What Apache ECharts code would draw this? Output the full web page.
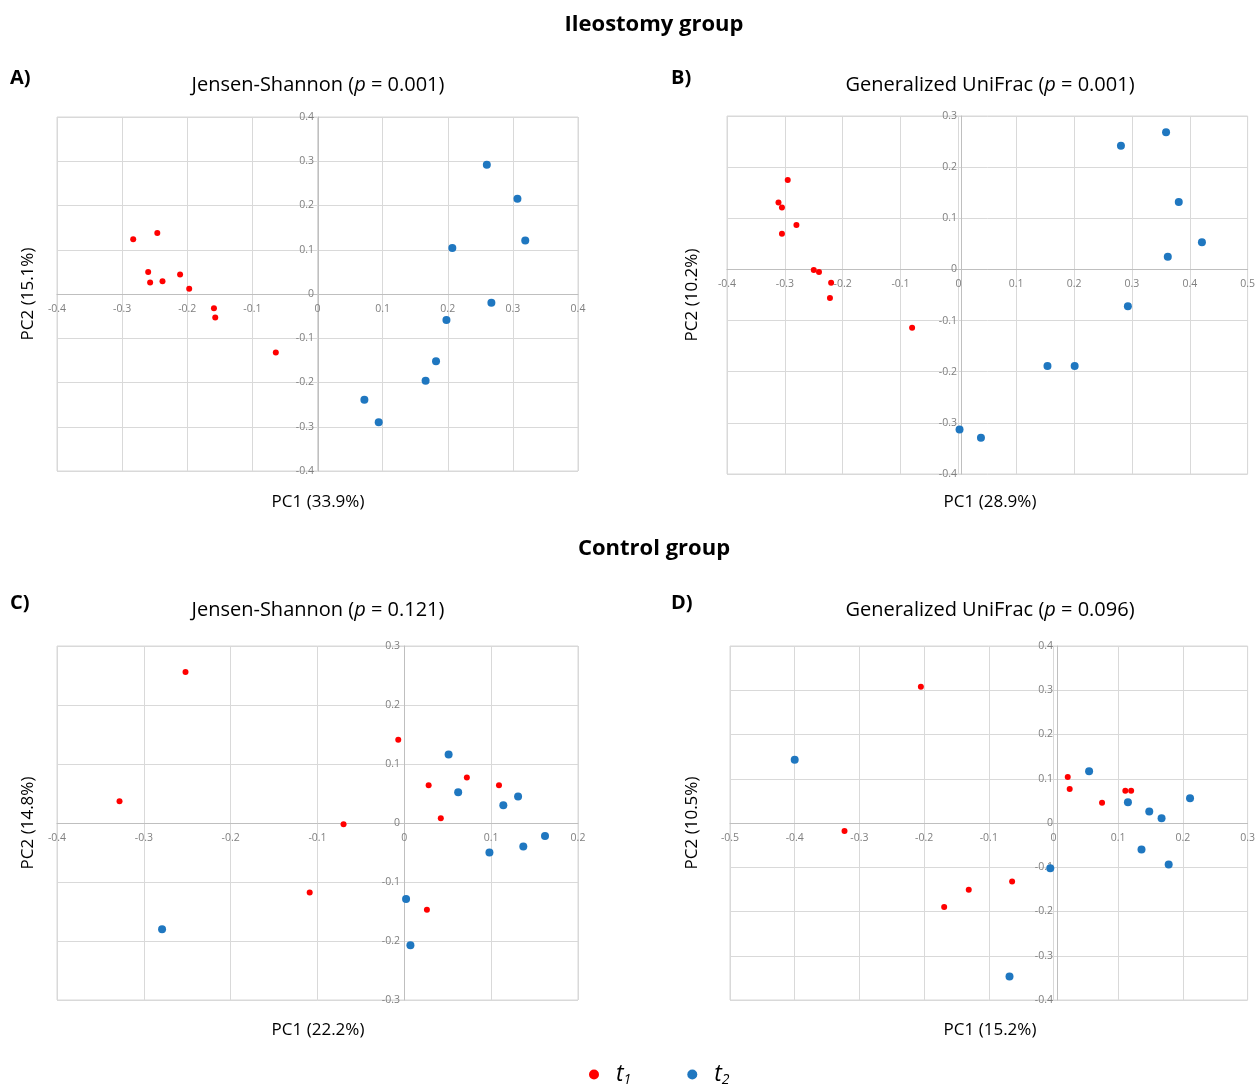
<!DOCTYPE html>
<html>
<head>
<meta charset="utf-8">
<script src="https://cdn.jsdelivr.net/npm/echarts@6/dist/echarts.min.js"></script>
<style>
  html, body { margin: 0; padding: 0; background: #fff; }
  #chart { width: 1258px; height: 1084px; }
</style>
</head>
<body>
<div id="chart"></div>
<script>
// 数据：各面板 PC1/PC2 坐标
const t1A = [[-0.283, 0.124], [-0.246, 0.138], [-0.260, 0.050], [-0.257, 0.026], [-0.238, 0.029],
  [-0.211, 0.044], [-0.197, 0.012], [-0.159, -0.032], [-0.157, -0.053], [-0.064, -0.132]]
const t2A = [[0.260, 0.292], [0.307, 0.215], [0.319, 0.121], [0.207, 0.104], [0.267, -0.020],
  [0.198, -0.059], [0.182, -0.152], [0.166, -0.196], [0.072, -0.239], [0.094, -0.290]]

const t1B = [[-0.295, 0.175], [-0.311, 0.131], [-0.305, 0.121], [-0.280, 0.087], [-0.305, 0.070],
  [-0.250, -0.001], [-0.241, -0.005], [-0.220, -0.026], [-0.222, -0.056], [-0.080, -0.114]]
const t2B = [[0.281, 0.242], [0.359, 0.268], [0.381, 0.132], [0.421, 0.053], [0.362, 0.025],
  [0.293, -0.072], [0.154, -0.189], [0.201, -0.189], [0.002, -0.313], [0.039, -0.329]]

const t1C = [[-0.252, 0.256], [-0.328, 0.037], [-0.007, 0.141], [0.028, 0.064], [0.072, 0.077],
  [0.109, 0.064], [0.042, 0.008], [-0.070, -0.002], [-0.109, -0.118], [0.026, -0.147]]
const t2C = [[0.051, 0.116], [0.062, 0.052], [0.131, 0.045], [0.114, 0.030], [0.162, -0.022],
  [0.137, -0.040], [0.098, -0.050], [0.002, -0.129], [0.007, -0.207], [-0.279, -0.180]]

const t1D = [[-0.205, 0.308], [-0.323, -0.018], [0.022, 0.104], [0.025, 0.077], [0.075, 0.046],
  [0.111, 0.073], [0.120, 0.073], [-0.064, -0.132], [-0.131, -0.151], [-0.169, -0.190]]
const t2D = [[-0.400, 0.143], [0.055, 0.117], [0.115, 0.047], [0.148, 0.026], [0.167, 0.011],
  [0.211, 0.056], [0.136, -0.060], [0.178, -0.094], [-0.005, -0.102], [-0.068, -0.347]]

// 坐标轴范围
const xRanges = [[-0.4, 0.4], [-0.4, 0.5], [-0.4, 0.2], [-0.5, 0.3]]
const yRanges = [[-0.4, 0.4], [-0.4, 0.3], [-0.3, 0.3], [-0.4, 0.4]]

const panelTitles = [
  ['Jensen-Shannon (', '0.001)'],
  ['Generalized UniFrac (', '0.001)'],
  ['Jensen-Shannon (', '0.121)'],
  ['Generalized UniFrac (', '0.096)']
]
const pc1Labels = ['PC1 (33.9%)', 'PC1 (28.9%)', 'PC1 (22.2%)', 'PC1 (15.2%)']
const pc2Labels = ['PC2 (15.1%)', 'PC2 (10.2%)', 'PC2 (14.8%)', 'PC2 (10.5%)']
const panelLetters = ['A)', 'B)', 'C)', 'D)']

const RED = '#ff0000'
const BLUE = '#1f77c0'
const FONT = '"Open Sans", "Noto Sans", sans-serif'

// 网格布局
const grids = [
  { left: 57, top: 117, width: 521, height: 354 },
  { left: 727, top: 116, width: 526, height: 358 },
  { left: 57, top: 646, width: 521, height: 354 },
  { left: 730, top: 646, width: 523, height: 354 }
]

// 轴线放在 0 处：用 offset 把轴线和标签一起移进去
const xAxis = xRanges.map((r, i) => {
  const yr = yRanges[i]
  return {
    type: 'value', gridIndex: i, min: r[0], max: r[1], interval: 0.1,
    position: 'bottom',
    offset: -Math.round((0 - yr[0]) / (yr[1] - yr[0]) * grids[i].height),
    axisLine: { onZero: false, lineStyle: { color: '#bfbfbf', width: 1 } },
    axisTick: { show: false },
    axisLabel: { color: '#7f7f7f', fontSize: 10.5, fontFamily: FONT, margin: 10 },
    splitLine: { lineStyle: { color: '#d9d9d9', width: 1 } }
  }
})

const yAxis = yRanges.map((r, i) => {
  const xr = xRanges[i]
  return {
    type: 'value', gridIndex: i, min: r[0], max: r[1], interval: 0.1,
    position: 'left',
    offset: -Math.round((0 - xr[0]) / (xr[1] - xr[0]) * grids[i].width),
    axisLine: { onZero: false, lineStyle: { color: '#bfbfbf', width: 1 } },
    axisTick: { show: false },
    axisLabel: { color: '#7f7f7f', fontSize: 10.5, fontFamily: FONT, margin: 4 },
    splitLine: { lineStyle: { color: '#d9d9d9', width: 1 } }
  }
})

const t1Sets = [t1A, t1B, t1C, t1D]
const t2Sets = [t2A, t2B, t2C, t2D]
const series = []
for (let i = 0; i < 4; i++) {
  series.push({
    name: 't1', type: 'scatter', xAxisIndex: i, yAxisIndex: i,
    symbolSize: 6, itemStyle: { color: RED, opacity: 1 }, data: t1Sets[i]
  })
  series.push({
    name: 't2', type: 'scatter', xAxisIndex: i, yAxisIndex: i,
    symbolSize: 8, itemStyle: { color: BLUE, opacity: 1 }, data: t2Sets[i]
  })
}

// 文字元素
const graphic = []
const addText = (text, x, y, opts) => {
  graphic.push(Object.assign({
    type: 'text', x: x, y: y,
    style: Object.assign({
      text: text, fill: '#000', fontFamily: FONT, fontSize: 16,
      align: 'center', verticalAlign: 'middle'
    }, opts.style || {})
  }, opts.el || {}))
}

addText('Ileostomy group', 654, 25, { style: { fontSize: 22, fontWeight: 'bold' } })
addText('Control group', 654, 549, { style: { fontSize: 22, fontWeight: 'bold' } })

const letterPos = [[10, 78], [671, 78], [10, 603], [671, 603]]
grids.forEach((g, i) => {
  const cy = g.top + g.height / 2
  const titleX = i % 2 === 0 ? 318 : 990
  const titleY = i < 2 ? 85 : 610
  addText('{n|' + panelTitles[i][0] + '}{i|p}{n| = ' + panelTitles[i][1] + '}', titleX, titleY, {
    style: {
      rich: {
        n: { fontSize: 20, fontFamily: FONT, fill: '#000' },
        i: { fontSize: 20, fontFamily: FONT, fontStyle: 'italic', fill: '#000' }
      }
    }
  })
  addText(panelLetters[i], letterPos[i][0], letterPos[i][1], {
    style: { fontSize: 20, fontWeight: 'bold', align: 'left' }
  })
  addText(pc1Labels[i], titleX, i < 2 ? 502 : 1030, { style: { fontSize: 17 } })
  addText(pc2Labels[i], i % 2 === 0 ? 28 : 692, cy, {
    style: { fontSize: 17 }, el: { rotation: Math.PI / 2 }
  })
})

const chart = echarts.init(document.getElementById('chart'))
chart.setOption({
  animation: false,
  grid: grids.map(g => Object.assign({ show: true, borderColor: '#d9d9d9', borderWidth: 1 }, g)),
  xAxis: xAxis,
  yAxis: yAxis,
  series: series,
  legend: {
    data: ['t1', 't2'],
    left: 584, top: 1058,
    icon: 'circle', itemWidth: 10, itemHeight: 10, itemGap: 56,
    formatter: n => '{t|t}{s|' + n.slice(1) + '}',
    textStyle: {
      rich: {
        t: { fontSize: 23, fontStyle: 'italic', fontFamily: FONT, color: '#000', padding: [0, 0, 0, 12] },
        s: { fontSize: 14, fontStyle: 'italic', fontFamily: FONT, color: '#000', verticalAlign: 'bottom', padding: [12, 0, 0, 0] }
      }
    }
  },
  graphic: graphic
})
</script>
</body>
</html>
